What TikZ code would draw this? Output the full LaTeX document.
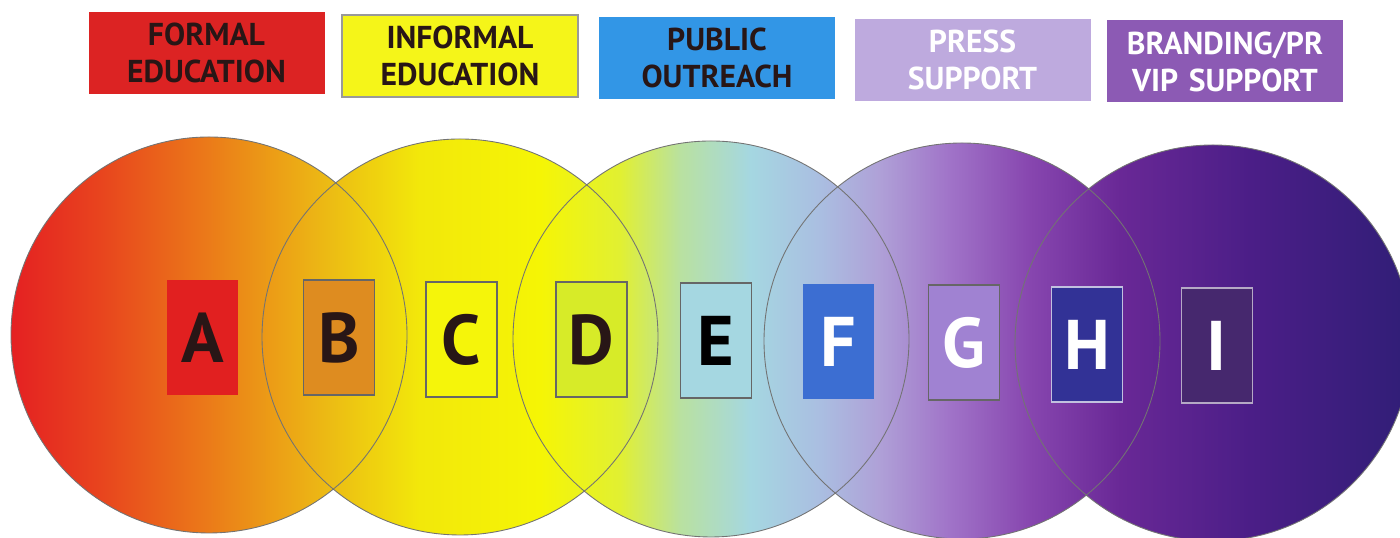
\documentclass[tikz,border=0pt]{standalone}
\usepackage{fontspec}
\setmainfont{PT Sans}
\usepackage{tikz}
\usetikzlibrary{shapes}

\definecolor{sRed}{RGB}{228,28,35}
\definecolor{sRedOr}{RGB}{232,68,30}
\definecolor{sOrange}{RGB}{235,118,25}
\definecolor{sOrYel}{RGB}{236,188,20}
\definecolor{sYellowA}{RGB}{242,232,10}
\definecolor{sYellowB}{RGB}{245,245,5}
\definecolor{sYelGr}{RGB}{225,240,50}
\definecolor{sMint}{RGB}{185,225,160}
\definecolor{sSky}{RGB}{165,215,225}
\definecolor{sSkyLav}{RGB}{170,190,225}
\definecolor{sLav}{RGB}{175,160,215}
\definecolor{sLavDk}{RGB}{160,115,200}
\definecolor{sPurple}{RGB}{135,70,175}
\definecolor{sPurpleDk}{RGB}{105,40,150}
\definecolor{sIndigo}{RGB}{75,30,135}
\definecolor{sIndigoDk}{RGB}{50,30,120}

\definecolor{legRed}{RGB}{220,35,35}
\definecolor{legYellow}{RGB}{245,245,25}
\definecolor{legBlue}{RGB}{50,150,230}
\definecolor{legLav}{RGB}{190,170,222}
\definecolor{legPurple}{RGB}{140,90,180}
\definecolor{inkDark}{RGB}{40,22,22}

\definecolor{boxA}{RGB}{225,32,32}
\definecolor{boxB}{RGB}{222,140,32}
\definecolor{boxC}{RGB}{245,245,10}
\definecolor{boxD}{RGB}{215,235,40}
\definecolor{boxE}{RGB}{165,215,225}
\definecolor{boxF}{RGB}{60,110,210}
\definecolor{boxG}{RGB}{160,130,210}
\definecolor{boxH}{RGB}{50,50,150}
\definecolor{boxI}{RGB}{70,40,110}

\pgfdeclarehorizontalshading{spectrum}{100bp}{color(0bp)=(sRed); color(25bp)=(sRed);
  color(28.57bp)=(sRedOr); color(32.14bp)=(sOrange); color(36.79bp)=(sOrYel);
  color(40bp)=(sYellowA); color(44.29bp)=(sYellowB); color(47.14bp)=(sYelGr);
  color(49.29bp)=(sMint); color(51.79bp)=(sSky); color(54.29bp)=(sSkyLav);
  color(56.43bp)=(sLav); color(58.93bp)=(sLavDk); color(61.79bp)=(sPurple);
  color(65bp)=(sPurpleDk); color(69.64bp)=(sIndigo); color(75bp)=(sIndigoDk);
  color(100bp)=(sIndigoDk)}

\tikzset{
  legend/.style={minimum width=2.36cm, minimum height=0.82cm, text width=2.3cm,
    align=center, inner sep=0pt, font=\fontsize{9}{10.5}\selectfont\bfseries},
  letterbox/.style={minimum width=0.71cm, minimum height=1.15cm, inner sep=0pt,
    draw=black!60, line width=0.3pt, font=\fontsize{20}{22}\selectfont\bfseries},
}

\begin{document}
\begin{tikzpicture}
\useasboundingbox (0,0) rectangle (14,5.38);

\begin{scope}
  \clip (2.09,2.03) circle (1.98) (4.60,2.01) circle (1.98) (7.11,1.99) circle (1.98)
        (9.62,1.97) circle (1.98) (12.13,1.95) circle (1.98);
  \shade[shading=spectrum] (0,0) rectangle (14,5.38);
\end{scope}
\draw[black!55, line width=0.25pt] (2.09,2.03) circle (1.98) (4.60,2.01) circle (1.98)
  (7.11,1.99) circle (1.98) (9.62,1.97) circle (1.98) (12.13,1.95) circle (1.98);

\node[legend, fill=legRed, text=inkDark] (formal) at (2.065,4.85) {FORMAL\\EDUCATION};
\node[legend, fill=legYellow, draw=black!40, line width=0.3pt, text=inkDark] (informal) at (4.60,4.82) {INFORMAL\\EDUCATION};
\node[legend, fill=legBlue, text=inkDark] (outreach) at (7.17,4.80) {PUBLIC\\OUTREACH};
\node[legend, fill=legLav, text=white] (press) at (9.725,4.78) {PRESS\\SUPPORT};
\node[legend, fill=legPurple, text=white] (branding) at (12.25,4.765) {BRANDING/PR\\VIP SUPPORT};

\node[letterbox, fill=boxA, draw=none, text=inkDark] (a) at (2.025,2.005) {A};
\node[letterbox, fill=boxB, text=inkDark] (b) at (3.39,2.005) {B};
\node[letterbox, fill=boxC, text=inkDark] (c) at (4.615,1.985) {C};
\node[letterbox, fill=boxD, text=inkDark] (d) at (5.915,1.985) {D};
\node[letterbox, fill=boxE, text=black] (e) at (7.16,1.975) {E};
\node[letterbox, fill=boxF, draw=none, text=white] (f) at (8.385,1.965) {F};
\node[letterbox, fill=boxG, text=white] (g) at (9.64,1.955) {G};
\node[letterbox, fill=boxH, draw=white!70!boxH, text=white] (h) at (10.87,1.935) {H};
\node[letterbox, fill=boxI, draw=white!60!boxI, text=white] (i) at (12.17,1.925) {I};
\end{tikzpicture}
\end{document}
